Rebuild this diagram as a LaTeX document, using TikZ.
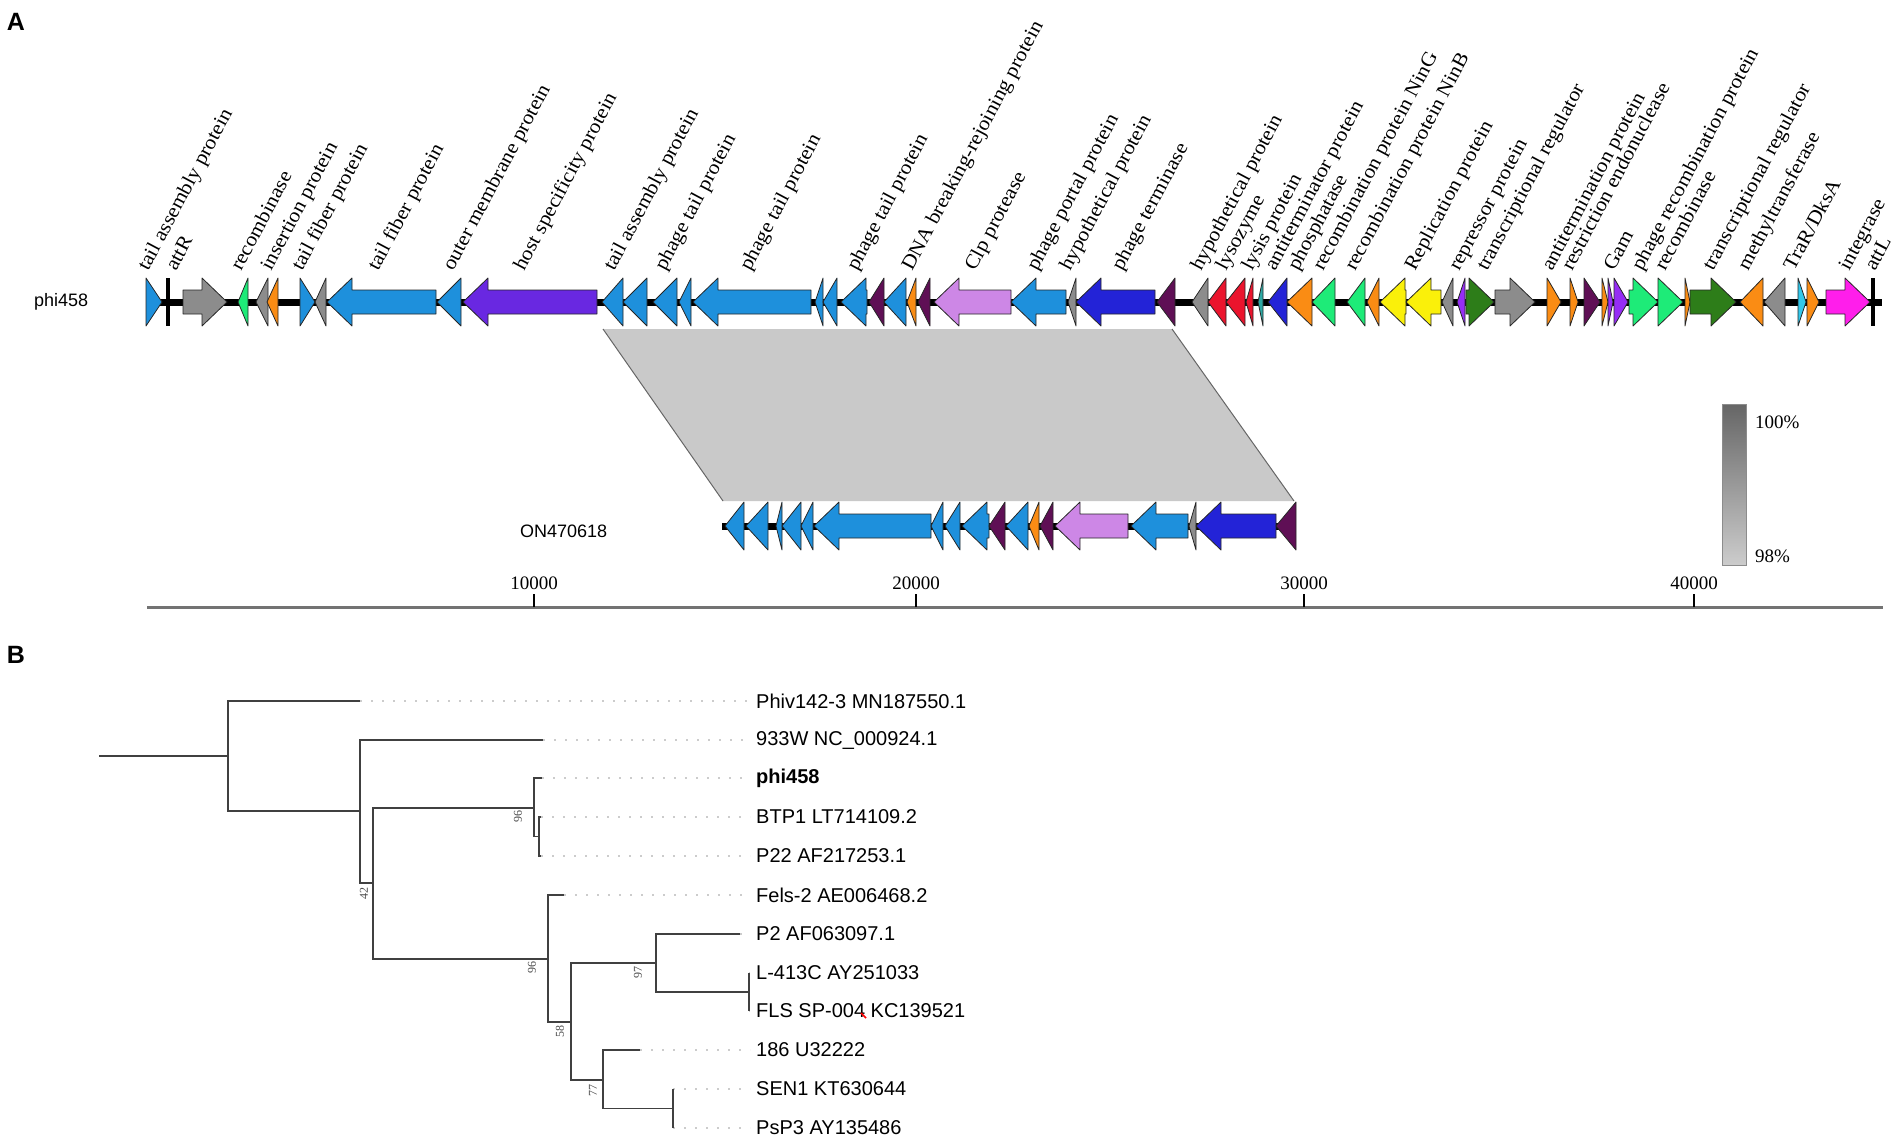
\documentclass[tikz,border=0pt]{standalone}
\usepackage{fontspec}
\setmainfont{Liberation Serif}
\setsansfont{Liberation Sans}
\newfontfamily\genefont{Liberation Serif}[FakeStretch=1.08]
\usepackage{xcolor}
\usepackage{tikz}

\definecolor{tailblue}{RGB}{30,144,220}
\definecolor{genegray}{RGB}{140,140,140}
\definecolor{recgreen}{RGB}{30,235,120}
\definecolor{geneorange}{RGB}{250,140,20}
\definecolor{hostpurple}{RGB}{105,40,225}
\definecolor{darkplum}{RGB}{95,15,85}
\definecolor{clplilac}{RGB}{205,135,230}
\definecolor{termblue}{RGB}{35,35,215}
\definecolor{lysred}{RGB}{235,20,45}
\definecolor{lysteal}{RGB}{45,170,165}
\definecolor{repyellow}{RGB}{250,240,10}
\definecolor{geneviolet}{RGB}{150,45,245}
\definecolor{regreen}{RGB}{45,125,25}
\definecolor{intmagenta}{RGB}{255,30,235}
\definecolor{tracyan}{RGB}{50,200,235}

\tikzset{
  gene/.style={draw=black!85, line width=0.8pt, line join=round},
  backbone/.style={line width=7pt, black},
  attbar/.style={line width=4pt, black},
  genelbl/.style={rotate=62, anchor=base west, inner sep=0pt, font=\genefont\fontsize{20}{20}\selectfont},
  trackname/.style={anchor=west, inner sep=0pt, font=\sffamily\fontsize{18}{18}\selectfont},
  scalelbl/.style={inner sep=2pt, font=\fontsize{19}{19}\selectfont},
  branch/.style={line width=1.6pt, black!75},
  leaflbl/.style={anchor=west, inner sep=0pt, font=\sffamily\fontsize{20}{20}\selectfont},
  boot/.style={rotate=90, inner sep=0pt, text=black!70, font=\fontsize{12}{12}\selectfont},
  guide/.style={line width=2pt, black!20, dash pattern=on 2pt off 9pt},
  panel/.style={inner sep=0pt, font=\sffamily\bfseries\fontsize{25}{25}\selectfont}
}

% gene pointing left: start, end, track y, colour
\newcommand{\lgene}[4]{%
  \pgfmathsetmacro{\hx}{#1+min(25,#2-#1)}%
  \draw[gene,fill=#4] ({#1},{#3}) -- ({\hx},{#3-24}) -- ({\hx},{#3-12}) -- ({#2},{#3-12})
     -- ({#2},{#3+12}) -- ({\hx},{#3+12}) -- ({\hx},{#3+24}) -- cycle;}
% gene pointing right: start, end, track y, colour
\newcommand{\rgene}[4]{%
  \pgfmathsetmacro{\hx}{#2-min(25,#2-#1)}%
  \draw[gene,fill=#4] ({#2},{#3}) -- ({\hx},{#3-24}) -- ({\hx},{#3-12}) -- ({#1},{#3-12})
     -- ({#1},{#3+12}) -- ({\hx},{#3+12}) -- ({\hx},{#3+24}) -- cycle;}

\begin{document}
\begin{tikzpicture}[x=1pt,y=-1pt]
\useasboundingbox (0,0) rectangle (1904,1142);

%panel letters
\node[panel] (pA) at (16,22) {A};
\node[panel] (pB) at (16,655) {B};

%identity band between the two tracks
\fill[black!21] (603,329) -- (1172,329) -- (1294,501) -- (723,501) -- cycle;
\draw[black!60, line width=1pt] (603,329) -- (723,501);
\draw[black!60, line width=1pt] (1172,329) -- (1294,501);

%draw phi458 track
\node[trackname] (phi) at (34,302) {phi458};
\draw[backbone] (146,302) -- (1882,302);
\draw[attbar] (168,278) -- (168,326);
\draw[attbar] (1873,278) -- (1873,326);
\foreach \a/\b/\c in {146/162/tailblue, 183/227/genegray, 300/315/tailblue,
    1466/1494/regreen, 1495/1535/genegray, 1547/1561/geneorange, 1570/1578/geneorange,
    1584/1600/darkplum, 1602/1608/geneorange, 1608/1613/geneviolet, 1614/1628/geneviolet,
    1629/1658/recgreen, 1658/1683/recgreen, 1685/1690/geneorange, 1690/1736/regreen,
    1798/1806/tracyan, 1807/1819/geneorange, 1826/1870/intmagenta}{
  \rgene{\a}{\b}{302}{\c}
}
\foreach \a/\b/\c in {238/248/recgreen, 256/268/genegray, 267/278/geneorange,
    315/326/genegray, 327/436/tailblue, 437/461/tailblue, 463/597/hostpurple,
    602/623/tailblue, 623/647/tailblue, 653/677/tailblue, 679/691/tailblue,
    693/811/tailblue, 815/823/tailblue, 823/837/tailblue, 841/867/tailblue,
    869/884/darkplum, 884/906/tailblue, 907/916/geneorange, 918/930/darkplum,
    934/1011/clplilac, 1011/1066/tailblue, 1068/1076/genegray, 1076/1155/termblue,
    1157/1175/darkplum, 1192/1208/genegray, 1208/1226/lysred, 1226/1245/lysred,
    1246/1253/lysred, 1258/1263/lysteal, 1268/1287/termblue, 1287/1312/geneorange,
    1312/1335/recgreen, 1347/1365/recgreen, 1367/1379/geneorange, 1380/1406/repyellow,
    1406/1441/repyellow, 1442/1453/genegray, 1457/1465/geneviolet,
    1740/1763/geneorange, 1764/1785/genegray}{
  \lgene{\a}{\b}{302}{\c}
}
%gene names
\foreach \x/\t in {148/tail assembly protein, 176/attR, 241/recombinase,
    271/insertion protein, 302/tail fiber protein, 378/tail fiber protein,
    453/outer membrane protein, 524/host specificity protein,
    614/tail assembly protein, 665/phage tail protein, 750/phage tail protein,
    857/phage tail protein, 912/DNA breaking-rejoining protein, 975/Clp protease,
    1037/phage portal protein, 1070/hypothetical protein, 1122/phage terminase,
    1201/hypothetical protein, 1226/lysozyme, 1252/lysis protein,
    1275/antiterminator protein, 1298/phosphatase, 1323/recombination protein NinG,
    1355/recombination protein NinB, 1415/Replication protein, 1459/repressor protein,
    1487/transcriptional regulator, 1552/antitermination protein,
    1572/restriction endonuclease, 1614/Gam, 1642/phage recombination protein,
    1665/recombinase, 1713/transcriptional regulator, 1748/methyltransferase,
    1794/{TraR/DksA}, 1849/integrase, 1875/attL}{
  \node[genelbl] (lbl\x) at (\x,272) {\t};
}

%draw ON470618 track
\node[trackname] (on) at (520,531) {ON470618};
\draw[backbone] (722,526) -- (1296,526);
\foreach \a/\b/\c in {725/744/tailblue, 746/768/tailblue, 776/782/tailblue,
    782/801/tailblue, 801/813/tailblue, 814/931/tailblue, 931/943/tailblue,
    945/960/tailblue, 962/989/tailblue, 989/1005/darkplum, 1006/1028/tailblue,
    1029/1039/geneorange, 1040/1053/darkplum, 1055/1128/clplilac,
    1131/1188/tailblue, 1189/1196/genegray, 1196/1276/termblue, 1276/1296/darkplum}{
  \lgene{\a}{\b}{526}{\c}
}

%identity scale
\shade[top color=black!60, bottom color=black!20, draw=black!45, line width=0.6pt]
  (1722,404) rectangle (1746,565);
\node[scalelbl, anchor=west] (hi) at (1753,422) {100\%};
\node[scalelbl, anchor=west] (lo) at (1753,556) {98\%};

%draw horizontal axis
\draw[line width=3pt, black!55] (147,607) -- (1883,607);
\foreach \x/\t in {534/10000, 916/20000, 1304/30000, 1694/40000}{
   \draw[line width=1.5pt] (\x,607) -- (\x,594);
   \node[scalelbl, anchor=south] (tick\t) at (\x,592) {\t};
}

%tree points
\coordinate (root) at (99,756);
\coordinate (nA) at (228,756);
\coordinate (nB) at (360,811);
\coordinate (nC) at (373,883);
\coordinate (nD) at (534,808);
\coordinate (nE) at (539,836.5);
\coordinate (nF) at (548,959);
\coordinate (nG) at (571,1022);
\coordinate (nH) at (656,963);
\coordinate (nJ) at (749,992);
\coordinate (nI) at (603,1080);
\coordinate (nK) at (673,1108.5);
\foreach \n/\x/\y in {0/360/701, 1/543/740, 2/542/778, 3/541/817, 4/541/856,
    5/564/895, 6/740/934, 7/749/973, 8/749/1011, 9/640/1050, 10/673/1089, 11/673/1128}{
  \coordinate (t\n) at (\x,\y);
}

%leaf names
\foreach \n/\y/\t in {0/701/Phiv142-3 MN187550.1, 1/740/933W NC\_000924.1,
    2/778/\textbf{phi458}, 3/817/BTP1 LT714109.2, 4/856/P22 AF217253.1,
    5/895/Fels-2 AE006468.2, 6/934/P2 AF063097.1, 7/973/L-413C AY251033,
    8/1011/FLS SP-004 KC139521, 9/1050/186 U32222, 10/1089/SEN1 KT630644,
    11/1128/PsP3 AY135486}{
  \node[leaflbl] (leaf\n) at (756,\y) {\t};
  \draw[guide] (t\n) -- ([xshift=-6pt]leaf\n.west);
}
\draw[red, line width=1.5pt] (861,1013) -- (866,1018);

%branches
\draw[branch] (root) -- (nA);
\draw[branch] (nA) |- (t0);
\draw[branch] (nA) |- (nB);
\draw[branch] (nB) |- (t1);
\draw[branch] (nB) |- (nC);
\draw[branch] (nC) |- (nD);
\draw[branch] (nC) |- (nF);
\draw[branch] (nD) |- (t2);
\draw[branch] (nD) |- (nE);
\draw[branch] (nE) |- (t3);
\draw[branch] (nE) |- (t4);
\draw[branch] (nF) |- (t5);
\draw[branch] (nF) |- (nG);
\draw[branch] (nG) |- (nH);
\draw[branch] (nG) |- (nI);
\draw[branch] (nH) |- (t6);
\draw[branch] (nH) |- (nJ);
\draw[branch] (nJ) |- (t7);
\draw[branch] (nJ) |- (t8);
\draw[branch] (nI) |- (t9);
\draw[branch] (nI) |- (nK);
\draw[branch] (nK) |- (t10);
\draw[branch] (nK) |- (t11);

%support values
\node[boot] (b42) at (364,893) {42};
\node[boot] (b96a) at (518,816) {96};
\node[boot] (b96b) at (532,967) {96};
\node[boot] (b58) at (560,1031) {58};
\node[boot] (b97) at (638,972) {97};
\node[boot] (b77) at (593,1090) {77};
\end{tikzpicture}
\end{document}
